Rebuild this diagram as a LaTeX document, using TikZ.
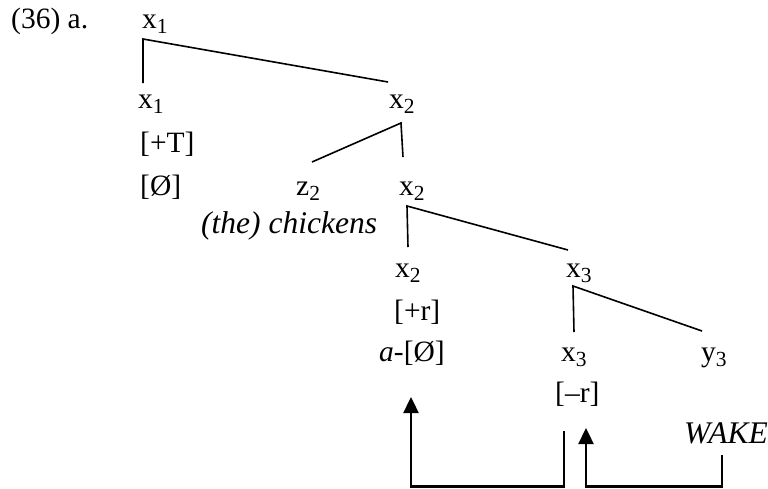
\documentclass[tikz,border=0pt]{standalone}
\usepackage{fontspec}
\setmainfont{Liberation Serif}
\usetikzlibrary{arrows.meta}
\newcommand\sbx[1]{\raisebox{-5pt}{\fontsize{21.5}{23}\selectfont #1}}
\begin{document}
\begin{tikzpicture}[x=1pt,y=-1pt,
  lbl/.style={anchor=base west,inner sep=0pt,font=\fontsize{29.5}{32}\selectfont},
  ilbl/.style={lbl,font=\fontsize{31.5}{34}\selectfont\itshape},
  branch/.style={line width=1.6pt,line join=miter},
  mover/.style={line width=2.4pt,line join=miter},
  arr/.style={mover,-{Triangle[width=15pt,length=16pt]}}]
\useasboundingbox (0,0) rectangle (768,488);
% texts
\node[lbl] (ex)   at (11,28)  {(36) a.};
\node[lbl] (xa)   at (142,28) {x\sbx{1}};
\node[lbl] (xb)   at (138,108) {x\sbx{1}};
\node[lbl] (fT)   at (140,152) {[+T]};
\node[lbl] (fO)   at (140,195) {[Ø]};
\node[lbl] (xc)   at (389,108) {x\sbx{2}};
\node[lbl] (z)    at (296,195) {z\sbx{2}};
\node[lbl] (xd)   at (399,195) {x\sbx{2}};
\node[ilbl] (ch)  at (201,233) {(the) chickens};
\node[lbl] (xe)   at (395,277) {x\sbx{2}};
\node[lbl] (xf)   at (566,277) {x\sbx{3}};
\node[lbl] (fr)   at (394,320) {[+r]};
\node[lbl] (aO)   at (379,361) {\textit{a}-[Ø]};
\node[lbl] (xg)   at (561,361) {x\sbx{3}};
\node[lbl] (y)    at (701,361) {y\sbx{3}};
\node[lbl] (fmr)  at (555,402) {[\textendash r]};
\node[ilbl] (wk)  at (684,443) {WAKE};
% tree coordinates
\coordinate (c1) at (143,39);  \coordinate (c1l) at (143,83);  \coordinate (c1r) at (388,82);
\coordinate (c2) at (401,123); \coordinate (c2l) at (312,162); \coordinate (c2r) at (403,157);
\coordinate (c3) at (407,206); \coordinate (c3l) at (408,247); \coordinate (c3r) at (568,250);
\coordinate (c4) at (573,286); \coordinate (c4l) at (574,332); \coordinate (c4r) at (702,331);
\draw[branch] (c1l) -- (c1) -- (c1r);
\draw[branch] (c2l) -- (c2) -- (c2r);
\draw[branch] (c3l) -- (c3) -- (c3r);
\draw[branch] (c4l) -- (c4) -- (c4r);
% movement arrows
\coordinate (a1s) at (564,431); \coordinate (a1b) at (564,486.5);
\coordinate (a1c) at (411,486.5); \coordinate (a1t) at (411,397);
\coordinate (a2s) at (722,455); \coordinate (a2b) at (722,486.5);
\coordinate (a2c) at (586,486.5); \coordinate (a2t) at (586,428);
\draw[arr] (a1s) -- (a1b) -- (a1c) -- (a1t);
\draw[arr] (a2s) -- (a2b) -- (a2c) -- (a2t);
\end{tikzpicture}
\end{document}
